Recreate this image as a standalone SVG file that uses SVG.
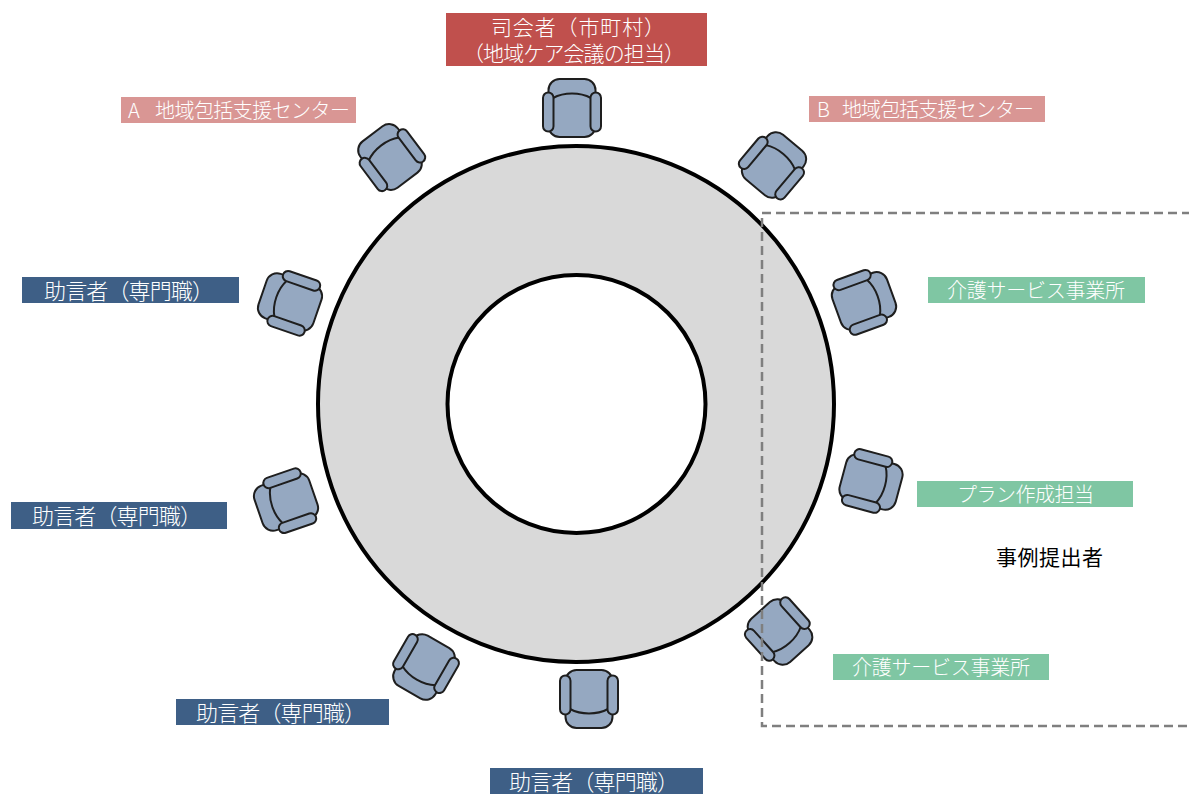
<svg xmlns="http://www.w3.org/2000/svg" xmlns:xlink="http://www.w3.org/1999/xlink" width="1189" height="794" viewBox="0 0 1189 794">
<style>
  .lbl { font-family: "Noto Sans CJK JP", "Noto Sans", sans-serif; font-weight: 300; fill: #FFFFFF; }
  .dark { font-family: "Noto Sans CJK JP", "Noto Sans", sans-serif; font-weight: 400; fill: #000000; }
  .red { fill: #C0504D; }
  .pink { fill: #D99694; }
  .blue { fill: #3E5F86; }
  .green { fill: #7FC6A3; }
  .chair-part { fill: #95A8C1; stroke: #1E1E1E; stroke-width: 2; }
  .chair-line { fill: none; stroke: #1E1E1E; stroke-width: 2; }
</style>
<defs>
  <g id="chair">
    <rect class="chair-part" x="-23.5" y="-29" width="47" height="58" rx="11"/>
    <path class="chair-line" d="M -19,-10 C -8,-16 8,-16 19,-10"/>
    <rect class="chair-part" x="-29" y="-15.5" width="10.5" height="39" rx="5.25"/>
    <rect class="chair-part" x="18.5" y="-15.5" width="10.5" height="39" rx="5.25"/>
  </g>
</defs>
<rect x="0" y="0" width="1189" height="794" fill="#FFFFFF"/>

<g id="table">
  <circle cx="576" cy="404" r="258" fill="#D9D9D9" stroke="#000000" stroke-width="4"/>
  <circle cx="576.5" cy="404" r="129" fill="#FFFFFF" stroke="#000000" stroke-width="4"/>
</g>

<g id="chairs">
  <use id="chair-top" xlink:href="#chair" href="#chair" transform="translate(572,108)"/>
  <use id="chair-a" xlink:href="#chair" href="#chair" transform="translate(390,157) rotate(-37)"/>
  <use id="chair-b" xlink:href="#chair" href="#chair" transform="translate(774,165) rotate(40)"/>
  <use id="chair-l1" xlink:href="#chair" href="#chair" transform="translate(290,302) rotate(-71)"/>
  <use id="chair-l2" xlink:href="#chair" href="#chair" transform="translate(286,502) rotate(-109)"/>
  <use id="chair-r1" xlink:href="#chair" href="#chair" transform="translate(864,301) rotate(70)"/>
  <use id="chair-r2" xlink:href="#chair" href="#chair" transform="translate(871,482) rotate(105)"/>
  <use id="chair-bl" xlink:href="#chair" href="#chair" transform="translate(424,667) rotate(-150)"/>
  <use id="chair-bottom" xlink:href="#chair" href="#chair" transform="translate(589,699) rotate(180)"/>
  <use id="chair-br" xlink:href="#chair" href="#chair" transform="translate(780,632) rotate(138)"/>
</g>

<g id="case-presenter-area">
  <rect x="762" y="213" width="460" height="513" fill="none" stroke="#7F7F7F" stroke-width="2.5" stroke-dasharray="9 5"/>
</g>

<g id="connectors"></g>

<g id="label-chair">
  <rect class="red" x="446" y="13" width="261" height="53"/>
  <text class="lbl" font-size="21">
    <tspan x="491" y="35" textLength="174" lengthAdjust="spacing">司会者（市町村）</tspan>
    <tspan x="463" y="61" textLength="222" lengthAdjust="spacing">（地域ケア会議の担当）</tspan>
  </text>
</g>

<g id="label-a">
  <rect class="pink" x="121" y="97" width="235" height="26"/>
  <text class="lbl" font-size="20"><tspan x="128" y="117.5">A</tspan><tspan x="155" y="117.5" textLength="195" lengthAdjust="spacing">地域包括支援センター</tspan></text>
</g>

<g id="label-b">
  <rect class="pink" x="809" y="96" width="236" height="26"/>
  <text class="lbl" font-size="20"><tspan x="817" y="116.5">B</tspan><tspan x="842" y="116.5" textLength="192" lengthAdjust="spacing">地域包括支援センター</tspan></text>
</g>

<g id="label-adv1">
  <rect class="blue" x="22" y="277" width="217" height="26"/>
  <text class="lbl" x="44" y="298.5" font-size="22" textLength="170" lengthAdjust="spacing">助言者（専門職）</text>
</g>

<g id="label-adv2">
  <rect class="blue" x="11" y="502" width="216" height="27"/>
  <text class="lbl" x="32" y="524" font-size="22" textLength="170" lengthAdjust="spacing">助言者（専門職）</text>
</g>

<g id="label-adv3">
  <rect class="blue" x="176" y="699" width="213" height="26"/>
  <text class="lbl" x="196" y="720.5" font-size="22" textLength="170" lengthAdjust="spacing">助言者（専門職）</text>
</g>

<g id="label-adv4">
  <rect class="blue" x="490" y="768" width="213" height="28"/>
  <text class="lbl" x="509" y="790" font-size="22" textLength="170" lengthAdjust="spacing">助言者（専門職）</text>
</g>

<g id="label-care1">
  <rect class="green" x="928" y="277" width="217" height="26"/>
  <text class="lbl" x="947" y="297.5" font-size="20" textLength="178" lengthAdjust="spacing">介護サービス事業所</text>
</g>

<g id="label-plan">
  <rect class="green" x="917" y="481" width="216" height="26"/>
  <text class="lbl" x="957" y="501.5" font-size="20" textLength="137" lengthAdjust="spacing">プラン作成担当</text>
</g>

<g id="label-care2">
  <rect class="green" x="833" y="654" width="216" height="26"/>
  <text class="lbl" x="852" y="674.5" font-size="20" textLength="178" lengthAdjust="spacing">介護サービス事業所</text>
</g>

<g id="label-presenter">
  <text class="dark" x="996" y="565" font-size="21" textLength="107" lengthAdjust="spacing">事例提出者</text>
</g>
</svg>
